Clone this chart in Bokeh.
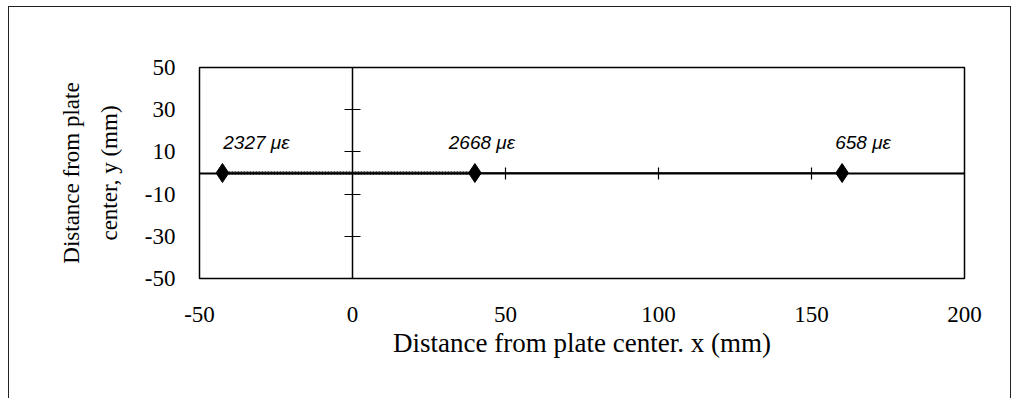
from bokeh.plotting import figure
from bokeh.models import ColumnDataSource, LinearAxis, FixedTicker, Range1d
from bokeh.core.properties import value
from bokeh.embed import file_html
from bokeh.resources import INLINE

# ---- data ----
x_mm = [-42.5, 40, 160]
y_mm = [0, 0, 0]
strain_labels = ["2327 \u03bc\u03b5", "2668 \u03bc\u03b5", "658 \u03bc\u03b5"]
x_ticks = [-50, 0, 50, 100, 150, 200]
y_ticks = [-50, -30, -10, 10, 30, 50]
x_inner_ticks = [50, 100, 150]
y_inner_ticks = [-30, -10, 10, 30]
x_title = "Distance from plate center. x (mm)"
y_title = "Distance from plate\ncenter, y (mm)"

# label pixel offsets (styling)
label_dx = [34, 7, 21]

SERIF = "Liberation Serif"

p = figure(width=1002, height=393, output_backend="svg", toolbar_location=None,
           x_range=Range1d(-50, 200), y_range=Range1d(-50, 50),
           x_axis_type=None, y_axis_type=None,
           min_border_left=190, min_border_right=46, min_border_top=60, min_border_bottom=120,
           frame_width=765, frame_height=211)
p.grid.visible = False
p.outline_line_color = "black"
p.outline_line_width = 1.5
p.background_fill_color = "white"
p.border_fill_color = "white"
p.styles = {"border": "1.5px solid #222", "border-bottom": "none",
            "margin-left": "8px", "margin-top": "6px"}

# outer axes (labels only)
xa = LinearAxis(ticker=FixedTicker(ticks=x_ticks), axis_label=x_title,
                major_label_overrides={t: str(t) for t in x_ticks})
ya = LinearAxis(ticker=FixedTicker(ticks=y_ticks), axis_label=y_title,
                major_label_overrides={t: str(t) for t in y_ticks})
for ax in (xa, ya):
    ax.axis_line_color = None
    ax.major_tick_line_color = None
    ax.minor_tick_line_color = None
    ax.major_label_text_font = SERIF
    ax.major_label_text_font_size = "23px"
    ax.major_label_text_color = "black"
    ax.axis_label_text_font = SERIF
    ax.axis_label_text_font_style = "normal"
    ax.axis_label_text_color = "black"
xa.axis_label_text_font_size = "27px"
ya.axis_label_text_font_size = "23px"
ya.axis_label_text_line_height = 1.5
xa.major_label_standoff = 22
xa.axis_label_standoff = 3
ya.major_label_standoff = 18
ya.axis_label_standoff = 20
p.add_layout(xa, "below")
p.add_layout(ya, "left")

# interior axes crossing at origin
xi = LinearAxis(ticker=FixedTicker(ticks=x_inner_ticks), fixed_location=0,
                major_label_overrides={t: "" for t in x_inner_ticks})
yi = LinearAxis(ticker=FixedTicker(ticks=y_inner_ticks), fixed_location=0,
                major_label_overrides={t: "" for t in y_inner_ticks})
for ax, w in ((xi, 2), (yi, 1.5)):
    ax.axis_line_color = "black"
    ax.axis_line_width = w
    ax.major_tick_line_color = "black"
    ax.major_tick_line_width = 1.2
    ax.major_tick_in = 8
    ax.major_tick_out = 8
    ax.minor_tick_line_color = None
    ax.major_label_text_font_size = "1px"
xi.major_tick_in = 6
xi.major_tick_out = 6
p.add_layout(xi, "above")
p.add_layout(yi, "right")

src = ColumnDataSource(dict(x=x_mm, y=y_mm, label=strain_labels, dx=label_dx))

# series line
p.line(x_mm, y_mm, line_color="black", line_width=1.5)
p.line(x_mm[:2], y_mm[:2], line_color="#333333", line_width=3.5, line_dash="2 1")
p.scatter("x", "y", source=src, marker="diamond", size=19, fill_color="black", line_color="black")
p.text("x", "y", text="label", source=src, x_offset="dx", y_offset=-20,
       text_align="center", text_baseline="bottom",
       text_font=value("Liberation Sans"), text_font_style="italic",
       text_font_size="19px", text_color="black")

open("out.html", "w").write(file_html(p, INLINE))
